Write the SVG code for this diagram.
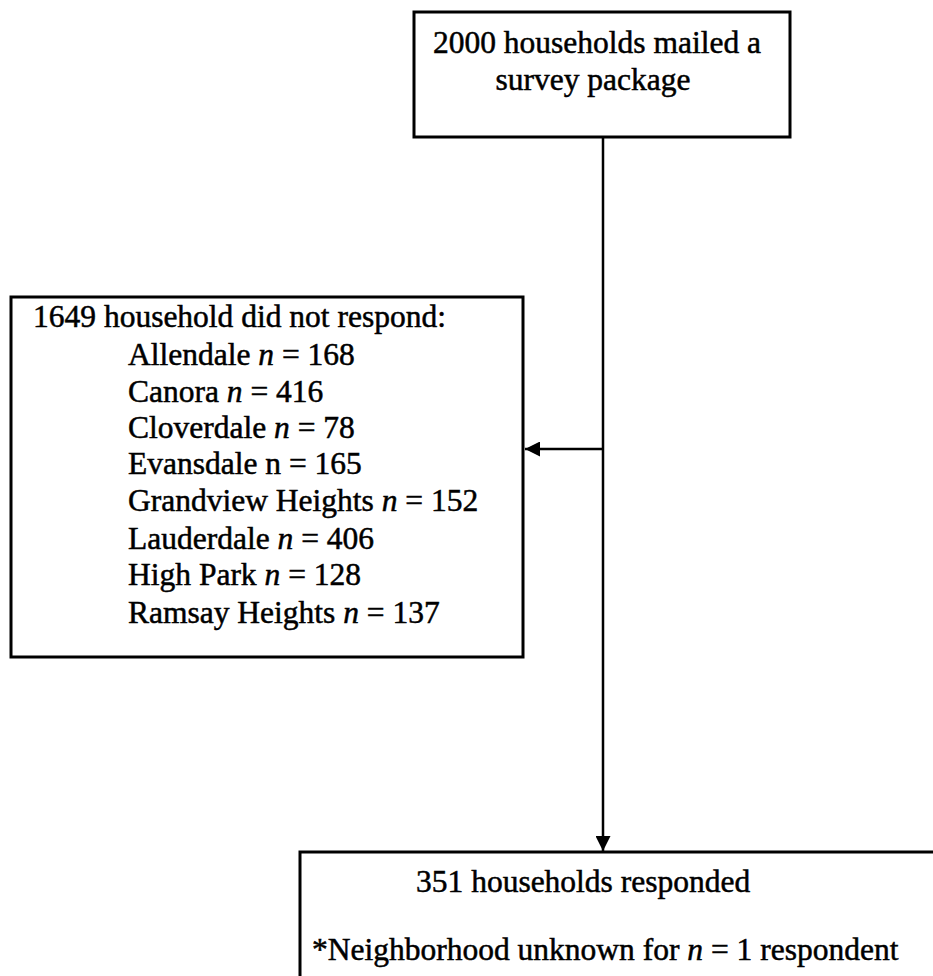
<svg xmlns="http://www.w3.org/2000/svg" width="933" height="976" viewBox="0 0 933 976">
  <style>
    .box { fill: #ffffff; stroke: #000000; stroke-width: 3; }
    .txt { font-family: "Liberation Serif", "Times New Roman", serif; font-size: 31.5px; fill: #000000; stroke: #000000; stroke-width: 0.5; }
    .it { font-style: italic; }
    .wire { stroke: #000000; stroke-width: 2.5; fill: none; }
  </style>
  <defs>
    <marker id="head" viewBox="0 0 10 10" refX="10" refY="5" markerWidth="6" markerHeight="6" markerUnits="strokeWidth" orient="auto">
      <path d="M0,0 L10,5 L0,10 Z" fill="#000000"/>
    </marker>
  </defs>
  <rect width="933" height="976" fill="#ffffff"/>

  <!-- connectors -->
  <g id="connectors">
    <line class="wire" x1="603" y1="137" x2="603" y2="851" marker-end="url(#head)"/>
    <line class="wire" x1="603" y1="449" x2="525" y2="449" marker-end="url(#head)"/>
  </g>

  <!-- mailed packages -->
  <g id="mailed">
    <rect class="box" x="414" y="12" width="376" height="125"/>
    <text class="txt" x="597" y="53" text-anchor="middle">2000 households mailed a</text>
    <text class="txt" x="593" y="90" text-anchor="middle">survey package</text>
  </g>

  <!-- non-respondents by neighbourhood -->
  <g id="nonresponse">
    <rect class="box" x="11" y="297" width="512" height="360"/>
    <text class="txt" x="33" y="327">1649 household did not respond:</text>
    <text class="txt" x="128" y="365">Allendale <tspan class="it">n</tspan> = 168</text>
    <text class="txt" x="128" y="402">Canora <tspan class="it">n</tspan> = 416</text>
    <text class="txt" x="128" y="438">Cloverdale <tspan class="it">n</tspan> = 78</text>
    <text class="txt" x="128" y="474">Evansdale n = 165</text>
    <text class="txt" x="128" y="511">Grandview Heights <tspan class="it">n</tspan> = 152</text>
    <text class="txt" x="128" y="549">Lauderdale <tspan class="it">n</tspan> = 406</text>
    <text class="txt" x="128" y="585">High Park <tspan class="it">n</tspan> = 128</text>
    <text class="txt" x="128" y="623">Ramsay Heights <tspan class="it">n</tspan> = 137</text>
  </g>

  <!-- respondents -->
  <g id="responded">
    <rect class="box" x="300" y="852" width="660" height="140"/>
    <text class="txt" x="416" y="892">351 households responded</text>
    <text class="txt" x="312" y="960">*Neighborhood unknown for <tspan class="it">n</tspan> = 1 respondent</text>
  </g>
</svg>
